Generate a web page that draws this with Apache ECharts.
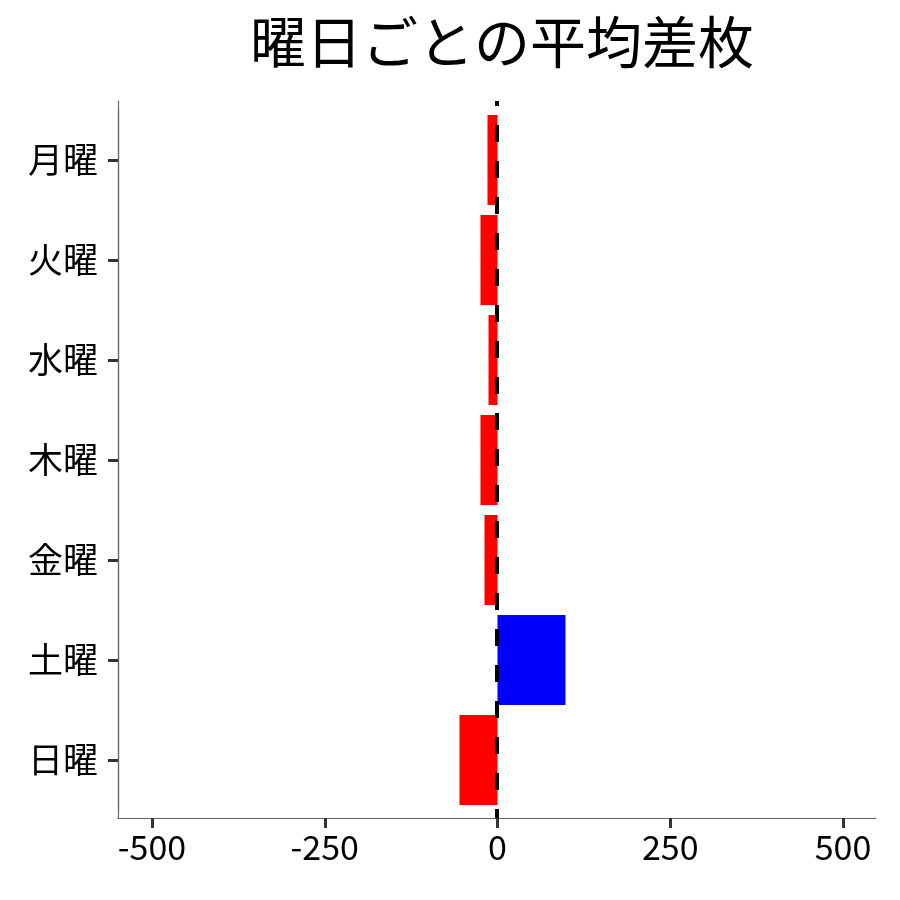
<!DOCTYPE html>
<html><head><meta charset="utf-8">
<script src="https://cdn.jsdelivr.net/npm/echarts@6/dist/echarts.min.js"></script>
<style>html,body{margin:0;padding:0;background:#fff}#c{width:900px;height:900px}</style>
</head><body><div id="c"></div>
<script>
const titleText = '曜日ごとの平均差枚';
const days = ['月曜', '火曜', '水曜', '木曜', '金曜', '土曜', '日曜'];
const diffs = [-14.5, -24.6, -13, -24.6, -18.8, 98.4, -55];
const xMin = -500, xMax = 500, xStep = 250;

const FONT = '"Noto Sans CJK JP", "Noto Sans", sans-serif';
const chart = echarts.init(document.getElementById('c'), null, {renderer: 'canvas'});
chart.setOption({
  animation: false,
  backgroundColor: '#fff',
  title: {
    text: titleText, left: 497, top: 9, textAlign: 'center',
    textStyle: {fontFamily: FONT, fontSize: 56, fontWeight: 'normal', color: '#000'}
  },
  grid: [
    {left: 118, right: 24, top: 101, bottom: 82},
    {left: 152, right: 57, top: 110, bottom: 90}
  ],
  xAxis: [
    {
      gridIndex: 0, type: 'value', min: xMin * 1.1, max: xMax * 1.1, position: 'bottom',
      axisLine: {show: true, onZero: false, lineStyle: {color: '#666', width: 1.2}},
      axisTick: {show: false}, axisLabel: {show: false}, splitLine: {show: false}
    },
    {
      gridIndex: 1, type: 'value', min: xMin, max: xMax, interval: xStep, offset: 8, position: 'bottom',
      axisLine: {show: true, onZero: false, lineStyle: {color: '#666', width: 1.2}},
      axisTick: {show: true, length: 10, lineStyle: {color: '#333', width: 3}},
      axisLabel: {show: true, fontFamily: FONT, fontSize: 34, color: '#000', margin: 12},
      splitLine: {show: false}
    },
    {
      gridIndex: 1, type: 'value', min: xMin, max: xMax, interval: xStep, offset: 8, position: 'bottom',
      axisLine: {show: true, onZero: false, lineStyle: {color: '#666', width: 1.2}},
      axisTick: {show: true, length: 10, lineStyle: {color: '#333', width: 3}},
      axisLabel: {show: false},
      splitLine: {show: false}
    }
  ],
  yAxis: [
    {
      gridIndex: 0, type: 'value', min: 0, max: 1, position: 'left',
      axisLine: {show: true, onZero: false, lineStyle: {color: '#666', width: 1.2}},
      axisTick: {show: false}, axisLabel: {show: false}, splitLine: {show: false}
    },
    {
      gridIndex: 1, type: 'category', data: days, inverse: true, offset: 34, position: 'left',
      axisLine: {show: true, onZero: false, lineStyle: {color: '#666', width: 1.2}},
      axisTick: {show: true, alignWithLabel: true, length: 10, lineStyle: {color: '#333', width: 3}},
      axisLabel: {fontFamily: FONT, fontSize: 35, color: '#000', margin: 20},
      splitLine: {show: false}
    }
  ],
  series: [
    {
      type: 'bar', xAxisIndex: 1, yAxisIndex: 1, data: diffs,
      barWidth: '90%',
      itemStyle: {color: p => p.value >= 0 ? '#0000FF' : '#FF0000'},
      z: 2
    },
    {
      type: 'line', xAxisIndex: 0, yAxisIndex: 0, data: [],
      markLine: {
        silent: true, symbol: 'none', label: {show: false},
        lineStyle: {color: '#000', width: 4, type: [17, 19], dashOffset: 8},
        data: [{xAxis: 0}]
      },
      z: 5
    }
  ]
});
</script></body></html>
